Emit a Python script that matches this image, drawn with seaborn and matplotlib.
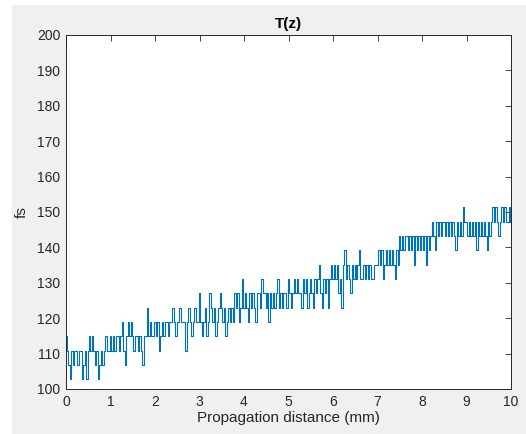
import numpy as np
import pandas as pd
import matplotlib
matplotlib.use("Agg")
import matplotlib.pyplot as plt
import seaborn as sns
from matplotlib.patches import Rectangle

# ---- data ----
# distinct pulse-duration levels seen in the trace (fs)
levels_fs = [102.7, 106.8, 110.8, 114.9, 118.9, 123.0, 127.0,
             131.1, 135.1, 139.2, 143.2, 147.3, 151.3]
# level index of each sample along z (0 .. 10 mm)
level_idx = [
    3,2,1,0,2,1,2,2,1,2,  2,0,1,2,0,2,3,2,3,2,  1,2,0,1,2,1,2,3,2,2,
    3,2,3,2,3,3,2,3,4,2,  1,3,4,3,4,3,2,3,3,2,  3,2,1,3,3,5,3,4,3,3,
    4,3,4,2,3,4,3,4,4,3,  4,4,5,4,3,4,4,5,4,4,  4,2,4,5,4,3,4,5,4,4,
    6,4,3,4,5,3,4,6,5,4,  5,3,4,5,6,5,4,5,3,4,  5,4,5,4,6,5,6,4,5,7,
    5,6,5,4,6,5,6,5,4,6,  6,5,7,6,6,5,6,4,6,5,  6,5,6,7,5,6,5,6,6,5,
    7,6,5,6,7,6,7,6,6,5,  7,6,7,5,6,7,6,5,7,6,  7,8,6,5,7,6,7,5,7,8,
    7,8,7,8,6,7,5,8,9,7,  8,7,6,8,7,8,7,8,9,7,  7,8,7,8,7,8,7,7,8,8,
    8,9,8,9,7,8,9,8,9,8,  9,8,7,9,8,10,9,10,9,10,  10,9,10,9,10,8,10,9,10,9,
    10,9,10,8,10,9,10,11,10,9,  11,10,11,10,11,11,10,11,10,11,  10,11,10,9,11,10,11,10,12,11,
    11,10,11,10,11,10,11,9,11,10,  11,10,11,10,9,11,10,11,12,11,  12,11,10,11,12,11,12,11,11,12,
    11,
]
z_start, z_end = 0.0, 10.0
x_ticks = [0, 1, 2, 3, 4, 5, 6, 7, 8, 9, 10]
y_ticks = [100, 110, 120, 130, 140, 150, 160, 170, 180, 190, 200]

z_mm = np.linspace(z_start, z_end, len(level_idx))
T_fs = np.array(levels_fs)[level_idx]
df = pd.DataFrame({"z": z_mm, "T": T_fs})

# ---- style ----
sns.set_theme(style="white")
plt.rcParams["font.family"] = ["Liberation Sans", "DejaVu Sans"]
txt = "#262626"

fig = plt.figure(figsize=(5.26, 4.34), dpi=100, facecolor="white")
# MATLAB grey figure panel (screenshot has a thin white margin at left/top)
fig.patches.append(Rectangle((12 / 526, 0), 1 - 12 / 526, 1 - 5 / 434,
                             transform=fig.transFigure, facecolor="#f0f0f0",
                             edgecolor="none", zorder=-10))

ax = fig.add_axes([66 / 526, 1 - 389 / 434, 445 / 526, 354 / 434])
ax.set_facecolor("white")
sns.lineplot(data=df, x="z", y="T", ax=ax, color="#0072BD", linewidth=0.8,
             estimator=None, sort=False, drawstyle="steps-mid")

ax.set_xlim(0, 10)
ax.set_ylim(100, 200)
ax.set_xticks(x_ticks)
ax.set_yticks(y_ticks)
ax.tick_params(direction="in", length=4, width=0.6, colors=txt,
               labelsize=10, top=True, right=True, pad=4,
               labelcolor=txt)
for s in ax.spines.values():
    s.set_color(txt)
    s.set_linewidth(0.7)

ax.set_xlabel("Propagation distance (mm)", fontsize=11, color=txt, labelpad=2)
ax.set_ylabel("fs", fontsize=11, color=txt, labelpad=6)
ax.set_title("T(z)", fontsize=11, fontweight="bold", color="black", pad=5)

fig.savefig("out.png", dpi=100, facecolor=fig.get_facecolor())
